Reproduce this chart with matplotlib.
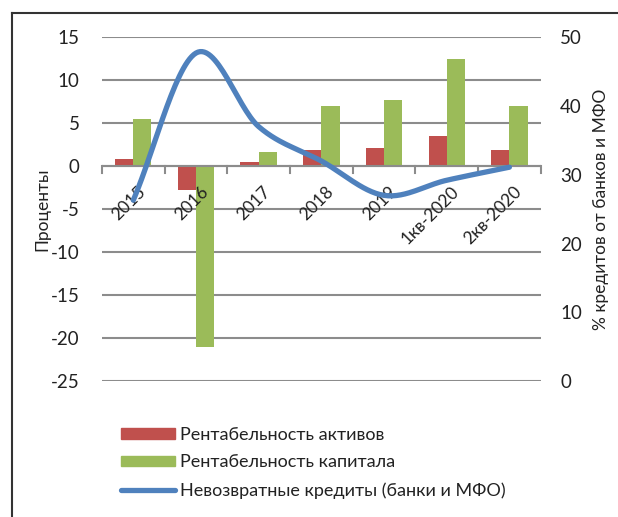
import numpy as np
import matplotlib
matplotlib.use("Agg")
import matplotlib.pyplot as plt
from matplotlib.lines import Line2D
from matplotlib.patches import Patch

plt.rcParams['font.family'] = ['Lato', 'DejaVu Sans']
plt.rcParams['axes.unicode_minus'] = False

categories = ['2015', '2016', '2017', '2018', '2019', '1кв-2020', '2кв-2020']
roa = [0.8, -2.8, 0.5, 1.9, 2.1, 3.5, 1.9]          # Рентабельность активов
roe = [5.5, -21.0, 1.7, 7.0, 7.7, 12.5, 7.0]        # Рентабельность капитала
npl = [26.3, 47.7, 37.0, 32.0, 27.0, 29.2, 31.1]    # Невозвратные кредиты, %

RED = '#C0504D'
GREEN = '#9BBB59'
BLUE = '#4F81BD'
GRID = '#8c8c8c'


def catmull_rom(xs, ys, n=30):
    # smooth curve through the points, like Excel's "smoothed line"
    xs = np.asarray(xs, float)
    ys = np.asarray(ys, float)
    px = np.concatenate([[2 * xs[0] - xs[1]], xs, [2 * xs[-1] - xs[-2]]])
    py = np.concatenate([[2 * ys[0] - ys[1]], ys, [2 * ys[-1] - ys[-2]]])
    ox, oy = [], []
    for i in range(1, len(px) - 2):
        t = np.linspace(0, 1, n, endpoint=False)
        for p, o in ((px, ox), (py, oy)):
            p0, p1, p2, p3 = p[i - 1], p[i], p[i + 1], p[i + 2]
            o.extend(0.5 * (2 * p1 + (-p0 + p2) * t
                            + (2 * p0 - 5 * p1 + 4 * p2 - p3) * t ** 2
                            + (-p0 + 3 * p1 - 3 * p2 + p3) * t ** 3))
    ox.append(xs[-1])
    oy.append(ys[-1])
    return np.array(ox), np.array(oy)


fig = plt.figure(figsize=(6.18, 5.17), dpi=100)
ax = fig.add_axes([0.165, 0.263, 0.71, 0.665])
ax2 = ax.twinx()

x = np.arange(len(categories))
w = 0.29
ax.bar(x - w / 2, roa, w, color=RED, zorder=3)
ax.bar(x + w / 2, roe, w, color=GREEN, zorder=3)

ax.set_xlim(-0.5, len(categories) - 0.5)
ax.set_ylim(-25, 15)
ax.set_yticks(np.arange(-25, 16, 5))
ax.yaxis.grid(True, color=GRID, linewidth=1.5, zorder=0)
ax.set_axisbelow(True)
for s in ax.spines.values():
    s.set_visible(False)
ax.tick_params(axis='y', length=0, pad=16, labelsize=13.5, colors='#222222')
ax.set_xticks([])
ax.set_ylabel('Проценты', fontsize=12.5, color='#222222', labelpad=0)

# category axis drawn at zero
ax.axhline(0, color=GRID, linewidth=1.5, zorder=4)
for b in np.arange(-0.5, len(categories), 1.0):
    ax.plot([b, b], [0, -0.75], color=GRID, linewidth=1.5, zorder=4, clip_on=False)
for xi, lab in zip(x, categories):
    ax.annotate(lab, (xi, 0), xytext=(4, -17), textcoords='offset pixels',
                rotation=45, rotation_mode='anchor', ha='right', va='top',
                fontsize=12.5, color='#222222', zorder=6)

ax2.set_ylim(0, 50)
ax2.set_yticks(np.arange(0, 51, 10))
for s in ax2.spines.values():
    s.set_visible(False)
ax2.tick_params(axis='y', length=0, pad=14, labelsize=13.5, colors='#222222')
ax2.set_ylabel('% кредитов от банков и МФО', fontsize=12.5, color='#222222', labelpad=8)
sx, sy = catmull_rom(x, npl)
ax2.plot(sx, sy, color=BLUE, linewidth=3.8, solid_capstyle='round', zorder=5)

handles = [Patch(color=RED), Patch(color=GREEN),
           Line2D([], [], color=BLUE, linewidth=3.8, solid_capstyle='round')]
labels = ['Рентабельность активов', 'Рентабельность капитала',
          'Невозвратные кредиты (банки и МФО)']
fig.legend(handles, labels, loc='upper left', bbox_to_anchor=(0.195, 0.175),
           frameon=False, fontsize=13, handlelength=3.0, handleheight=0.55,
           handletextpad=0.3, labelspacing=0.66, labelcolor='#222222',
           borderaxespad=0, borderpad=0)

# frame lines around the figure (left and top)
fig.add_artist(Line2D([12 / 618, 12 / 618], [0, 1 - 13 / 517], color='#333333',
                      linewidth=1.5, transform=fig.transFigure))
fig.add_artist(Line2D([12 / 618, 1], [1 - 13 / 517, 1 - 13 / 517], color='#333333',
                      linewidth=1.5, transform=fig.transFigure))

fig.savefig('out.png', dpi=100)
